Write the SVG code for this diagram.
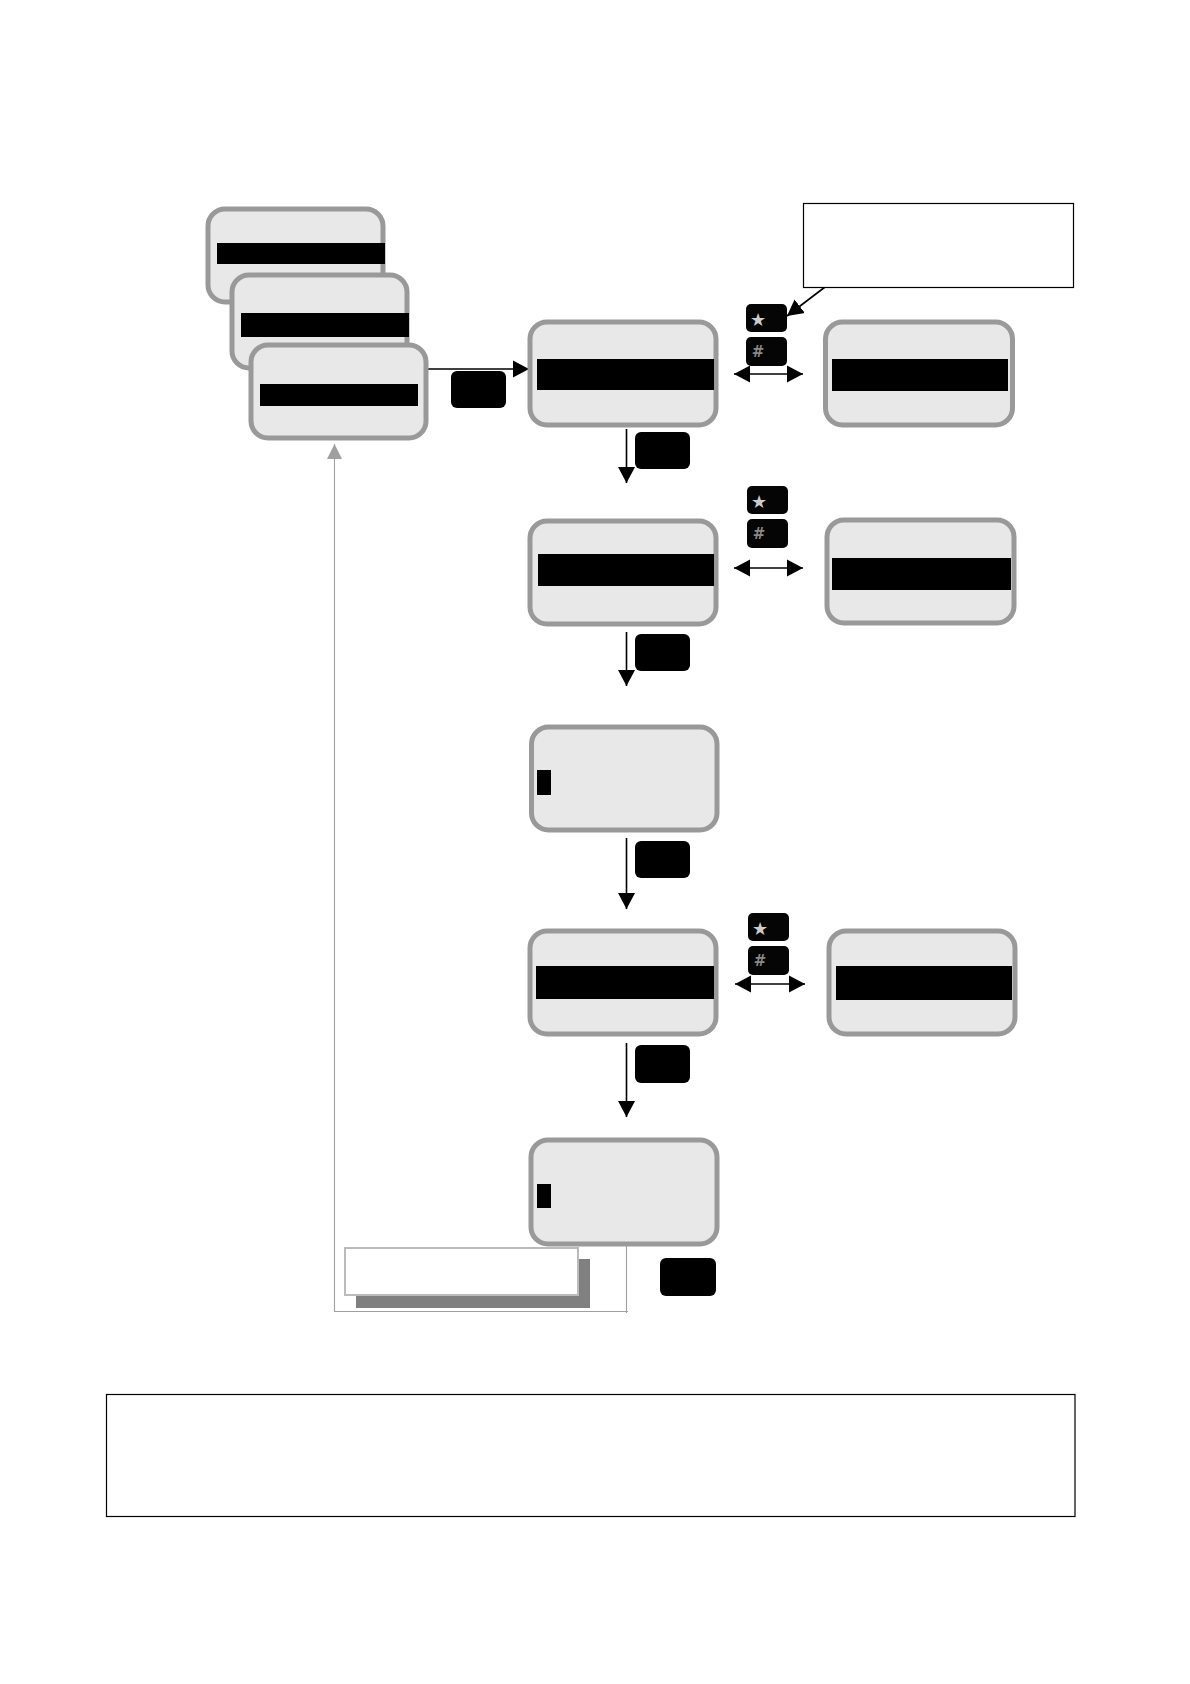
<svg xmlns="http://www.w3.org/2000/svg" width="1190" height="1684" viewBox="0 0 1190 1684">
<style>
.lcd{fill:#e8e8e8;stroke:#999;stroke-width:5}
.bar{fill:#000}
.btn{fill:#000}
.key{fill:#050505}
.ln{stroke:#000;stroke-width:1.6;fill:none}
.gl{stroke:#a0a0a0;stroke-width:1.1;fill:none}
.k{font-family:"DejaVu Sans",sans-serif;text-anchor:middle}
</style>
<defs>
<marker id="ah" markerUnits="userSpaceOnUse" markerWidth="17" markerHeight="18" refX="16" refY="9" orient="auto-start-reverse"><path d="M0 0.500L16 9L0 17.500Z" fill="#000"/></marker>
<marker id="ag" markerUnits="userSpaceOnUse" markerWidth="16" markerHeight="16" refX="15" refY="7.5" orient="auto"><path d="M0 0L15 7.500L0 15Z" fill="#a0a0a0"/></marker>
<g id="keys">
<rect class="key" x="0" y="0" width="41" height="28" rx="5"/>
<text class="k" x="12" y="22" font-size="18" fill="#ccc">★</text>
<rect class="key" x="0" y="33" width="41" height="29" rx="5"/>
<text class="k" x="12" y="53" font-size="15" font-weight="bold" fill="#888">#</text>
</g>
</defs>
<g id="connectors">
<path class="ln" d="M428 369H529" marker-end="url(#ah)"/>
<path class="ln" d="M825 287L787 316" marker-end="url(#ah)"/>
<path class="ln" d="M734 374H803" marker-start="url(#ah)" marker-end="url(#ah)"/>
<path class="ln" d="M626.500 429V483" marker-end="url(#ah)"/>
<path class="ln" d="M734 568H803" marker-start="url(#ah)" marker-end="url(#ah)"/>
<path class="ln" d="M626.500 632V686" marker-end="url(#ah)"/>
<path class="ln" d="M626.500 838V909" marker-end="url(#ah)"/>
<path class="ln" d="M735 984H805" marker-start="url(#ah)" marker-end="url(#ah)"/>
<path class="ln" d="M626.500 1043V1117" marker-end="url(#ah)"/>
<path class="gl" d="M626.500 1246V1313M628 1311.500H334.500V444" marker-end="url(#ag)"/>
</g>
<g id="screen-a"><rect class="lcd" x="208" y="209" width="175" height="93" rx="17"/><rect class="bar" x="217" y="243" width="168" height="21"/></g>
<g id="screen-b"><rect class="lcd" x="232" y="275" width="175" height="93" rx="17"/><rect class="bar" x="241" y="313" width="168" height="24"/></g>
<g id="screen-c"><rect class="lcd" x="251" y="345" width="175" height="93" rx="17"/><rect class="bar" x="260" y="384" width="158" height="22"/></g>
<g id="screen-d"><rect class="lcd" x="530" y="322" width="186" height="103" rx="17"/><rect class="bar" x="537" y="359" width="177" height="31"/></g>
<g id="screen-e"><rect class="lcd" x="825.500" y="322" width="187" height="103" rx="17"/><rect class="bar" x="832" y="359" width="176" height="32"/></g>
<g id="screen-f"><rect class="lcd" x="530" y="521" width="186" height="103" rx="17"/><rect class="bar" x="538" y="554" width="176" height="32"/></g>
<g id="screen-g"><rect class="lcd" x="827" y="520" width="187" height="103" rx="17"/><rect class="bar" x="832" y="558" width="179" height="32"/></g>
<g id="screen-h"><rect class="lcd" x="531.500" y="727" width="185.500" height="103" rx="17"/><rect class="bar" x="537" y="770" width="14" height="25"/></g>
<g id="screen-i"><rect class="lcd" x="530" y="931" width="186" height="103" rx="17"/><rect class="bar" x="536" y="966" width="178" height="33"/></g>
<g id="screen-j"><rect class="lcd" x="829" y="931" width="186" height="103" rx="17"/><rect class="bar" x="836" y="966" width="176" height="34"/></g>
<g id="screen-k"><rect class="lcd" x="531" y="1140" width="186" height="104" rx="17"/><rect class="bar" x="537" y="1184" width="14" height="24"/></g>
<g id="btn-1"><rect class="btn" x="451" y="371" width="55" height="37" rx="6"/></g>
<g id="btn-2"><rect class="btn" x="635" y="432" width="55" height="37" rx="6"/></g>
<g id="btn-3"><rect class="btn" x="635" y="634" width="55" height="37" rx="6"/></g>
<g id="btn-4"><rect class="btn" x="635" y="841" width="55" height="37" rx="6"/></g>
<g id="btn-5"><rect class="btn" x="635" y="1045" width="55" height="38" rx="6"/></g>
<g id="btn-6"><rect class="btn" x="660" y="1258" width="56" height="38" rx="6"/></g>
<g id="keys-1"><use href="#keys" x="746" y="304"/></g>
<g id="keys-2"><use href="#keys" x="747" y="486"/></g>
<g id="keys-3"><use href="#keys" x="748" y="913"/></g>
<g id="note"><rect x="803.500" y="203.500" width="270" height="84" fill="#fff" stroke="#000" stroke-width="1.2"/></g>
<g id="return-label"><rect x="356" y="1259" width="234" height="49" fill="#808080"/><rect x="345" y="1248" width="233" height="47" fill="#fff" stroke="#bbb" stroke-width="2"/></g>
<g id="footer"><rect x="106.500" y="1394.500" width="968.500" height="122" fill="#fff" stroke="#000" stroke-width="1.2"/></g>
</svg>
